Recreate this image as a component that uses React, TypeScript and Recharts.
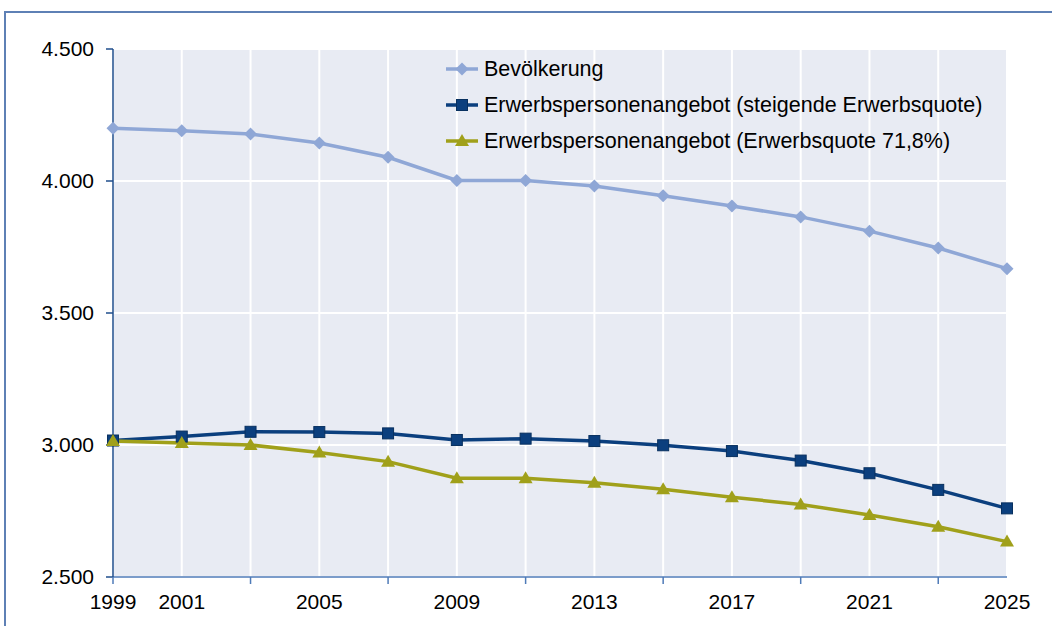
// Bevölkerung und Erwerbspersonenangebot 1999–2025 — line chart with markers.

import React from 'react'
import { LineChart, Line, XAxis, YAxis, CartesianGrid } from 'recharts'

const YEARS = ['1999', '2001', '2003', '2005', '2007', '2009', '2011', '2013', '2015', '2017', '2019', '2021', '2023', '2025']
const BEVOELKERUNG = [4200, 4190, 4178, 4144, 4090, 4002, 4002, 3981, 3944, 3905, 3864, 3810, 3746, 3668]
const ANGEBOT_STEIGEND = [3017, 3032, 3050, 3049, 3044, 3019, 3024, 3015, 2999, 2977, 2941, 2893, 2830, 2760]
const ANGEBOT_KONSTANT = [3015, 3008, 3000, 2972, 2937, 2874, 2874, 2857, 2832, 2802, 2775, 2735, 2690, 2634]

const LABELED_YEARS = ['1999', '2001', '2005', '2009', '2013', '2017', '2021', '2025']
const Y_TICKS = [2500, 3000, 3500, 4000, 4500]

const FONT = '"Liberation Sans", Arial, sans-serif'
const AXIS_COLOR = '#4F7BB8'
const Y_AXIS_COLOR = '#1F4E8C'

type MarkerKind = 'diamond' | 'square' | 'triangle'

const SERIES: { key: string; name: string; color: string; marker: MarkerKind }[] = [
  { key: 'bev', name: 'Bevölkerung', color: '#8FA7D6', marker: 'diamond' },
  { key: 'steigend', name: 'Erwerbspersonenangebot (steigende Erwerbsquote)', color: '#0B3F7E', marker: 'square' },
  { key: 'konstant', name: 'Erwerbspersonenangebot (Erwerbsquote 71,8%)', color: '#A0A01A', marker: 'triangle' },
]

const data = YEARS.map((year, i) => ({
  year,
  bev: BEVOELKERUNG[i],
  steigend: ANGEBOT_STEIGEND[i],
  konstant: ANGEBOT_KONSTANT[i],
}))

function fmtThousands(v: number): string {
  return v.toLocaleString('de-DE')
}

function Marker({ cx, cy, kind, color }: { cx?: number; cy?: number; kind: MarkerKind; color: string }) {
  if (cx == null || cy == null) return null
  if (kind === 'diamond') {
    const r = 6.5
    return <path d={`M${cx},${cy - r}L${cx + r},${cy}L${cx},${cy + r}L${cx - r},${cy}Z`} fill={color} />
  }
  if (kind === 'square') {
    const r = 5.5
    return <rect x={cx - r} y={cy - r} width={r * 2} height={r * 2} fill={color} stroke="#08305F" strokeWidth={1} />
  }
  return <path d={`M${cx},${cy - 7}L${cx + 7},${cy + 5}L${cx - 7},${cy + 5}Z`} fill={color} />
}

function YearTick(props: any) {
  const { x, y, payload, index } = props
  return (
    <g>
      {index % 2 === 0 && <line x1={x} y1={y} x2={x} y2={y + 7} stroke={AXIS_COLOR} strokeWidth={1.5} />}
      {LABELED_YEARS.includes(payload.value) && (
        <text x={x} y={y + 32} textAnchor="middle" fill="#000" fontSize={21} fontFamily={FONT}>
          {payload.value}
        </text>
      )}
    </g>
  )
}

// Legend sits inside the plot area, so it's drawn as an overlay rather than
// through <Legend>, which would shrink the plot.
function LegendOverlay() {
  return (
    <div style={{ position: 'absolute', top: 51, left: 445, fontFamily: FONT, fontSize: 21.5, color: '#000' }}>
      {SERIES.map((s) => (
        <div key={s.key} style={{ display: 'flex', alignItems: 'center', height: 36 }}>
          <svg width={34} height={18} style={{ overflow: 'visible' }}>
            <line x1={1} y1={9} x2={33} y2={9} stroke={s.color} strokeWidth={3.5} />
            <Marker cx={17} cy={9} kind={s.marker} color={s.color} />
          </svg>
          <span style={{ marginLeft: 5, whiteSpace: 'nowrap' }}>{s.name}</span>
        </div>
      ))}
    </div>
  )
}

export default function App() {
  return (
    <div style={{ position: 'fixed', left: 0, top: 0, width: 1052, height: 626, overflow: 'hidden', background: '#fff' }}>
      <div
        style={{
          position: 'absolute',
          left: 4,
          top: 11,
          width: 1100,
          height: 700,
          border: '2px solid #5E80B5',
          boxSizing: 'border-box',
        }}
      />
      <LineChart
        width={1052}
        height={626}
        data={data}
        margin={{ top: 49, right: 45, left: 13, bottom: 9 }}
        style={{ position: 'absolute', left: 0, top: 0 }}
      >
        <CartesianGrid stroke="#FFFFFF" strokeWidth={2} fill="#E8EBF3" fillOpacity={1} />
        <XAxis
          dataKey="year"
          interval={0}
          height={40}
          tickLine={false}
          tickSize={0}
          tickMargin={0}
          axisLine={{ stroke: AXIS_COLOR, strokeWidth: 1.5 }}
          tick={<YearTick />}
        />
        <YAxis
          domain={[2500, 4500]}
          ticks={Y_TICKS}
          width={100}
          tickSize={7}
          tickMargin={12}
          tickFormatter={fmtThousands}
          axisLine={{ stroke: Y_AXIS_COLOR, strokeWidth: 1.5 }}
          tickLine={{ stroke: Y_AXIS_COLOR, strokeWidth: 1.5 }}
          tick={{ fontSize: 21, fill: '#000', fontFamily: FONT }}
        />
        {SERIES.map((s) => (
          <Line
            key={s.key}
            dataKey={s.key}
            name={s.name}
            stroke={s.color}
            strokeWidth={3.5}
            isAnimationActive={false}
            dot={(p: any) => <Marker key={`${s.key}-${p.index}`} cx={p.cx} cy={p.cy} kind={s.marker} color={s.color} />}
            activeDot={false}
          />
        ))}
      </LineChart>
      <LegendOverlay />
    </div>
  )
}
